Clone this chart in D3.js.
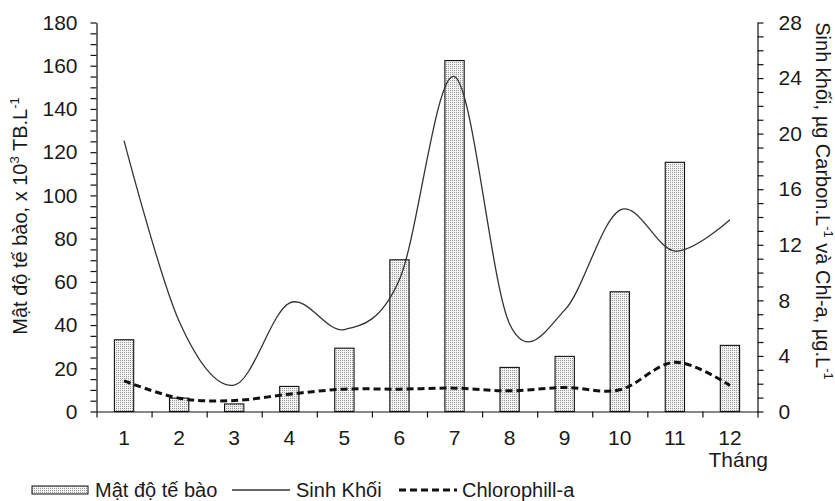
<!DOCTYPE html>
<html>
<head>
<meta charset="utf-8">
<script src="https://cdn.jsdelivr.net/npm/d3@7"></script>
<style>
  html, body { margin: 0; padding: 0; background: #fff; }
  svg { display: block; }
  text { font-family: "Liberation Sans", Arial, sans-serif; fill: #1a1a1a; }
</style>
</head>
<body>
<svg id="chart" width="835" height="501"></svg>
<script>
// ---- data ----
const months = ["1","2","3","4","5","6","7","8","9","10","11","12"];
const cellDensity = [33.2, 6.2, 3.5, 11.6, 29.3, 70.2, 162.4, 20.4, 25.5, 55.4, 115.3, 30.6];
const biomass = [19.5, 6.5, 1.9, 7.8, 5.9, 9.5, 24.1, 6.3, 7.3, 14.5, 11.55, 13.8];
const chlorophyll = [2.21, 0.96, 0.79, 1.25, 1.61, 1.61, 1.68, 1.49, 1.73, 1.56, 3.55, 1.87];
const leftTickValues = [0, 20, 40, 60, 80, 100, 120, 140, 160, 180];
const rightTickValues = [0, 4, 8, 12, 16, 20, 24, 28];
const legendLabels = ["Mật độ tế bào", "Sinh Khối", "Chlorophill-a"];
const xTitle = "Tháng";

// ---- layout ----
const svg = d3.select("#chart");
const L = 96.5, R = 757.5, T = 22.5, B = 411.5;

const x = d3.scaleBand().domain(months).range([L, R]).padding(0);
const xEdges = d3.scaleLinear().domain([0, months.length]).range([L, R]);
const yL = d3.scaleLinear().domain([0, 180]).range([B, T]);
const yR = d3.scaleLinear().domain([0, 28]).range([B, T]);

// pattern for bars
const defs = svg.append("defs");
const pat = defs.append("pattern").attr("id", "dots")
  .attr("patternUnits", "userSpaceOnUse").attr("width", 2).attr("height", 2);
pat.append("rect").attr("width", 2).attr("height", 2).attr("fill", "#f3f3f3");
pat.append("rect").attr("width", 1).attr("height", 1).attr("fill", "#9a9a9a");

// bars
const bw = x.bandwidth() * 0.35;
svg.append("g").selectAll("rect").data(cellDensity).join("rect")
  .attr("x", (d, i) => x(months[i]) + x.bandwidth() / 2 - bw / 2)
  .attr("y", d => yL(d))
  .attr("width", bw)
  .attr("height", d => B - yL(d))
  .attr("fill", "url(#dots)")
  .attr("stroke", "#111")
  .attr("stroke-width", 1.1);

// lines
const cx = (d, i) => x(months[i]) + x.bandwidth() / 2;
const lineBio = d3.line().x(cx).y(d => yR(d)).curve(d3.curveCardinal.tension(0));
svg.append("path").datum(biomass)
  .attr("d", lineBio).attr("fill", "none")
  .attr("stroke", "#333").attr("stroke-width", 1.3);
svg.append("path").datum(chlorophyll)
  .attr("d", lineBio).attr("fill", "none")
  .attr("stroke", "#111").attr("stroke-width", 3)
  .attr("stroke-dasharray", "7,4");

// axes
const fontTick = 21;
const gL = svg.append("g").attr("transform", `translate(${L},0)`)
  .call(d3.axisLeft(yL).tickValues(d3.range(0, 181, 5)).tickSize(6).tickSizeOuter(0)
    .tickFormat(d => leftTickValues.includes(d) ? d : ""));
const gR = svg.append("g").attr("transform", `translate(${R},0)`)
  .call(d3.axisRight(yR).tickValues(d3.range(0, 29, 1)).tickSize(6).tickSizeOuter(0)
    .tickFormat(d => rightTickValues.includes(d) ? d : ""));
const gX = svg.append("g").attr("transform", `translate(0,${B})`)
  .call(d3.axisBottom(xEdges).tickValues(d3.range(0, months.length + 1)).tickSize(6).tickSizeOuter(0)
    .tickFormat(""));
const gXL = svg.append("g").attr("transform", `translate(0,${B})`)
  .call(d3.axisBottom(x).tickSize(0).tickPadding(19));
gXL.select(".domain").remove();

[gL, gR, gX, gXL].forEach(g => {
  g.selectAll(".domain").attr("stroke", "#111").attr("stroke-width", 1.2);
  g.selectAll(".tick line").attr("stroke", "#111").attr("stroke-width", 1.2);
  g.selectAll("text").attr("font-size", fontTick)
    .attr("font-family", "'Liberation Sans', Arial, sans-serif").attr("fill", "#1a1a1a");
});
gL.selectAll(".tick text").attr("x", -19);
gR.selectAll(".tick text").attr("x", 21);

// x title
svg.append("text").attr("x", 768).attr("y", 467)
  .attr("text-anchor", "end").attr("font-size", 21).text(xTitle);

// left title
const lt = svg.append("text")
  .attr("transform", "translate(27,216) rotate(-90)")
  .attr("text-anchor", "middle").attr("font-size", 20);
lt.append("tspan").text("Mật độ tế bào, x 10");
lt.append("tspan").attr("font-size", 13).attr("dy", -8).text("3");
lt.append("tspan").attr("dy", 8).text(" TB.L");
lt.append("tspan").attr("font-size", 13).attr("dy", -8).text("-1");

// right title
const rt = svg.append("text")
  .attr("transform", "translate(816,201) rotate(90)")
  .attr("text-anchor", "middle").attr("font-size", 20);
rt.append("tspan").text("Sinh khối, µg Carbon.L");
rt.append("tspan").attr("font-size", 13).attr("dy", -8).text("-1");
rt.append("tspan").attr("dy", 8).text(" và Chl-a, µg.L");
rt.append("tspan").attr("font-size", 13).attr("dy", -8).text("-1");

// legend
const lg = svg.append("g").attr("font-size", 20);
lg.append("rect").attr("x", 32).attr("y", 486).attr("width", 56).attr("height", 8)
  .attr("fill", "url(#dots)").attr("stroke", "#111").attr("stroke-width", 1);
lg.append("text").attr("x", 95).attr("y", 497).text(legendLabels[0]);
lg.append("line").attr("x1", 232).attr("x2", 290).attr("y1", 490).attr("y2", 490)
  .attr("stroke", "#333").attr("stroke-width", 1.3);
lg.append("text").attr("x", 296).attr("y", 497).text(legendLabels[1]);
lg.append("line").attr("x1", 399).attr("x2", 457).attr("y1", 490).attr("y2", 490)
  .attr("stroke", "#111").attr("stroke-width", 3).attr("stroke-dasharray", "7,4");
lg.append("text").attr("x", 462).attr("y", 497).text(legendLabels[2]);
</script>
</body>
</html>
